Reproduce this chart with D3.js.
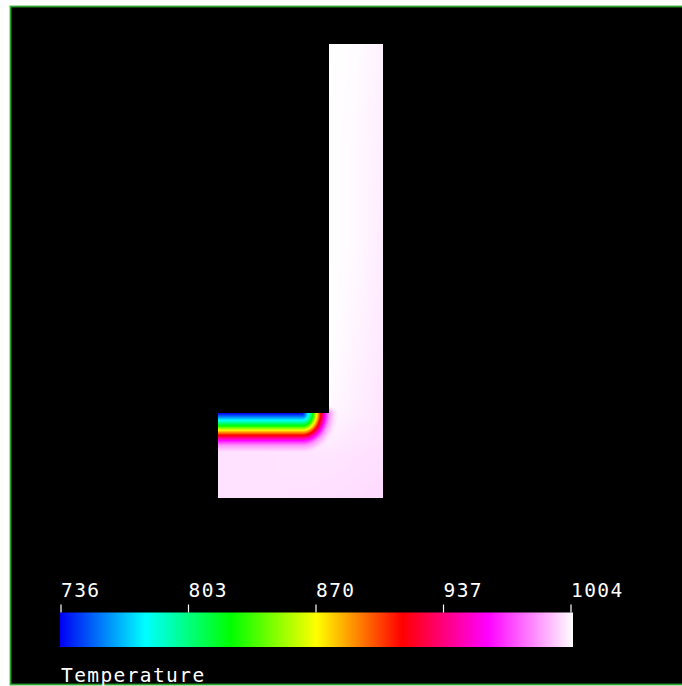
<!DOCTYPE html>
<html><head><meta charset="utf-8">
<script src="https://cdn.jsdelivr.net/npm/d3@7/dist/d3.min.js"></script>
<style>html,body{margin:0;padding:0;background:#fff;}svg{display:block;}</style>
</head><body>
<script>
// ---- data ----
const tempMin = 736, tempMax = 1004;
const tickValues = [736, 803, 870, 937, 1004];
const colorFractions = [0, 1/6, 2/6, 3/6, 4/6, 5/6, 1];
const colorList = ["#0000f4", "#00ffff", "#00ff00", "#ffff00", "#ff0000", "#ff00ff", "#ffffff"];
// L-shaped domain (model units)
const armX = [0, 1.64];          // horizontal arm x extent
const armY = [0, 0.85];          // horizontal arm y extent
const legX = [1.11, 1.64];       // vertical leg x extent
const legY = [0, 4.54];          // vertical leg y extent
// temperature profile below the cooled top surface of the horizontal arm
const profileDepth = [0, 0.03, 0.07, 0.125, 0.17, 0.22, 0.27, 0.32, 0.38, 0.45];
const profileTemp  = [736, 755, 781, 825, 870, 915, 959, 985, 998, 1004];
const cornerReach = 0.27;        // distance from the inner corner where isotherms start to bend
const cornerStretch = 1.2;       // horizontal compression of the bent isotherms
// background temperature field (coarse samples)
const bgXs = [0, 0.55, 1.11, 1.37, 1.64];
const bgYs = [0, 0.43, 0.85, 1.5, 2.5, 3.5, 4.54];
const bgRow0 = [999, 999, 998.5, 998, 997.5];
const bgRow1 = [999, 999, 999.5, 999, 998.5];
const bgRow2 = [999, 999.5, 1003, 1001, 999.5];
const bgRow3 = [1004, 1004, 1004, 1002, 1000];
const bgRow4 = [1004, 1004, 1004, 1003, 1000.5];
const bgRow5 = [1004, 1004, 1004, 1003, 1001];
const bgRow6 = [1004, 1004, 1004, 1003.5, 1001.5];
const bgRows = [bgRow0, bgRow1, bgRow2, bgRow3, bgRow4, bgRow5, bgRow6];
const titleText = "Temperature";

// ---- layout ----
const W = 682, H = 686;
const svg = d3.select("body").append("svg").attr("width", W).attr("height", H);
svg.append("rect").attr("x", 10.5).attr("y", 6.5).attr("width", 690).attr("height", 678)
  .attr("fill", "#000").attr("stroke", "#2fa52f").attr("stroke-width", 1.8);

const x = d3.scaleLinear().domain([0, 1.64]).range([218.5, 382.5]);
const y = d3.scaleLinear().domain([0, 4.54]).range([498.3, 44.3]);

const color = d3.scaleLinear()
  .domain(colorFractions.map(f => tempMin + f * (tempMax - tempMin)))
  .range(colorList).interpolate(d3.interpolateRgb).clamp(true);

const profile = d3.scaleLinear().domain(profileDepth).range(profileTemp).clamp(true);

function bilinear(xd, yd) {
  let i = d3.bisectRight(bgXs, xd) - 1; i = Math.max(0, Math.min(bgXs.length - 2, i));
  let j = d3.bisectRight(bgYs, yd) - 1; j = Math.max(0, Math.min(bgYs.length - 2, j));
  const tx = Math.max(0, Math.min(1, (xd - bgXs[i]) / (bgXs[i+1] - bgXs[i])));
  const ty = Math.max(0, Math.min(1, (yd - bgYs[j]) / (bgYs[j+1] - bgYs[j])));
  const a = bgRows[j][i], b = bgRows[j][i+1], c = bgRows[j+1][i], d = bgRows[j+1][i+1];
  return (a*(1-tx) + b*tx)*(1-ty) + (c*(1-tx) + d*tx)*ty;
}
function inside(xd, yd) {
  return (xd >= armX[0] && xd <= armX[1] && yd >= armY[0] && yd <= armY[1]) ||
         (xd >= legX[0] && xd <= legX[1] && yd >= legY[0] && yd <= legY[1]);
}
function temperature(xd, yd) {
  const bg = bilinear(xd, yd);
  const depth = armY[1] - yd;
  const u = legX[0] - xd;
  let de;
  if (u >= cornerReach) de = depth;
  else if (depth >= 0) de = Math.hypot((cornerReach - u) * cornerStretch, depth);
  else de = Math.hypot((cornerReach - u) * cornerStretch, 4 * depth);
  return Math.min(profile(de), bg);
}

// ---- field raster ----
const px0 = Math.floor(x(0)), px1 = Math.ceil(x(1.64));
const py0 = Math.floor(y(4.54)), py1 = Math.ceil(y(0));
const cw = px1 - px0, ch = py1 - py0;
const canvas = document.createElement("canvas");
canvas.width = cw; canvas.height = ch;
const ctx = canvas.getContext("2d");
const img = ctx.createImageData(cw, ch);
for (let j = 0; j < ch; j++) {
  for (let i = 0; i < cw; i++) {
    const xd = x.invert(px0 + i + 0.5), yd = y.invert(py0 + j + 0.5);
    const k = (j * cw + i) * 4;
    if (!inside(xd, yd)) { img.data[k+3] = 0; continue; }
    const c = d3.rgb(color(temperature(xd, yd)));
    img.data[k] = c.r; img.data[k+1] = c.g; img.data[k+2] = c.b; img.data[k+3] = 255;
  }
}
ctx.putImageData(img, 0, 0);
const defs = svg.append("defs");
defs.append("filter").attr("id", "soft").append("feGaussianBlur").attr("stdDeviation", 0.6);
svg.append("image").attr("x", px0).attr("y", py0).attr("width", cw).attr("height", ch)
  .attr("href", canvas.toDataURL()).attr("filter", "url(#soft)");

// ---- colour bar ----
const cb = d3.scaleLinear().domain([tempMin, tempMax]).range([61, 571]);
const grad = defs.append("linearGradient").attr("id", "cbgrad")
  .attr("x1", "0%").attr("x2", "100%").attr("y1", "0%").attr("y2", "0%");
grad.selectAll("stop").data(colorFractions).join("stop")
  .attr("offset", d => (d * 100) + "%").attr("stop-color", (d, i) => colorList[i]);
svg.append("rect").attr("x", cb(tempMin) - 1).attr("y", 612.5)
  .attr("width", cb(tempMax) - cb(tempMin) + 3).attr("height", 34.5)
  .attr("fill", "url(#cbgrad)");

const tk = svg.append("g");
tk.selectAll("line").data(tickValues).join("line")
  .attr("x1", d => cb(d)).attr("x2", d => cb(d)).attr("y1", 604.5).attr("y2", 612.5)
  .attr("stroke", "#fff").attr("stroke-width", 1.2);
tk.selectAll("text").data(tickValues).join("text")
  .attr("x", d => cb(d)).attr("y", 597)
  .attr("fill", "#fff").attr("font-family", "DejaVu Sans Mono")
  .attr("font-size", 19.5).attr("letter-spacing", 1.4).text(d => d);

svg.append("text").attr("x", 61).attr("y", 682)
  .attr("fill", "#fff").attr("font-family", "DejaVu Sans Mono")
  .attr("font-size", 19.5).attr("letter-spacing", 1.4).text(titleText);
</script>
</body></html>
